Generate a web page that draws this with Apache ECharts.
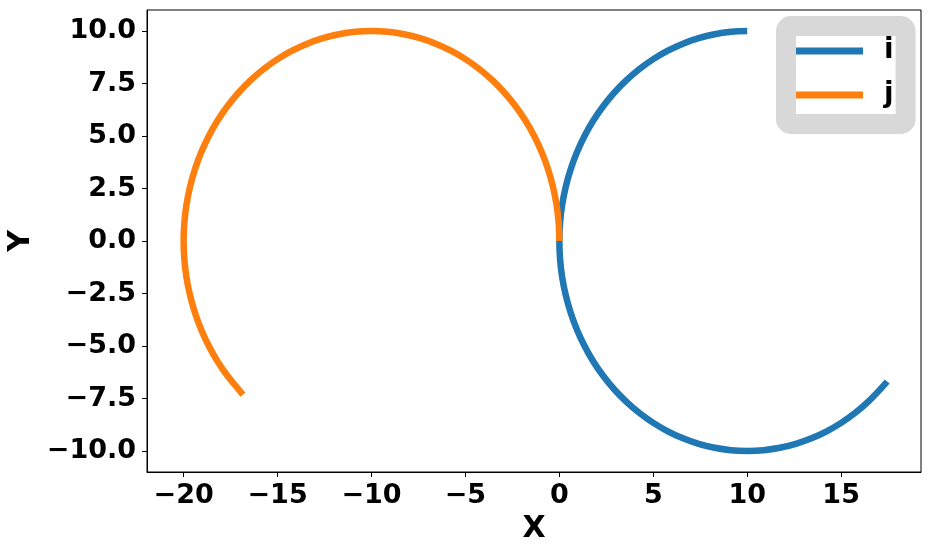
<!DOCTYPE html>
<html>
<head>
<meta charset="utf-8">
<script src="https://cdn.jsdelivr.net/npm/echarts@6/dist/echarts.min.js"></script>
<style>html,body{margin:0;padding:0;background:#fff}#c{width:931px;height:554px}</style>
</head>
<body>
<div id="c"></div>
<script>
// Series "i" (blue)
var iX = [10, 9.128, 8.264, 7.412, 6.580, 5.774, 5.000, 4.264, 3.572, 2.929, 2.340, 1.808, 1.340, 0.937, 0.603, 0.341, 0.152, 0.038, 0,
          0.038, 0.152, 0.341, 0.603, 0.937, 1.340, 1.808, 2.340, 2.929, 3.572, 4.264, 5.000, 5.774, 6.580, 7.412, 8.264, 9.128, 10,
          10.872, 11.736, 12.588, 13.420, 14.226, 15.000, 15.736, 16.428, 17.071, 17.45];
var iY = [10, 9.962, 9.848, 9.659, 9.397, 9.063, 8.660, 8.192, 7.660, 7.071, 6.428, 5.736, 5.000, 4.226, 3.420, 2.588, 1.736, 0.872, 0,
          -0.872, -1.736, -2.588, -3.420, -4.226, -5.000, -5.736, -6.428, -7.071, -7.660, -8.192, -8.660, -9.063, -9.397, -9.659, -9.848, -9.962, -10,
          -9.962, -9.848, -9.659, -9.397, -9.063, -8.660, -8.192, -7.660, -7.071, -6.69];
// Series "j" (orange)
var jX = [0, -0.038, -0.152, -0.341, -0.603, -0.937, -1.340, -1.808, -2.340, -2.929, -3.572, -4.264, -5.000, -5.774, -6.580, -7.412, -8.264, -9.128, -10,
          -10.872, -11.736, -12.588, -13.420, -14.226, -15.000, -15.736, -16.428, -17.071, -17.660, -18.192, -18.660, -19.063, -19.397, -19.659, -19.848, -19.962, -20,
          -19.962, -19.848, -19.659, -19.397, -19.063, -18.660, -18.192, -17.660, -17.071, -16.85];
var jY = [0, 0.872, 1.736, 2.588, 3.420, 4.226, 5.000, 5.736, 6.428, 7.071, 7.660, 8.192, 8.660, 9.063, 9.397, 9.659, 9.848, 9.962, 10,
          9.962, 9.848, 9.659, 9.397, 9.063, 8.660, 8.192, 7.660, 7.071, 6.428, 5.736, 5.000, 4.226, 3.420, 2.588, 1.736, 0.872, 0,
          -0.872, -1.736, -2.588, -3.420, -4.226, -5.000, -5.736, -6.428, -7.071, -7.32];
var seriesNames = ['i', 'j'];
var xTicks = [-20, -15, -10, -5, 0, 5, 10, 15];
var yTicks = [-10, -7.5, -5, -2.5, 0, 2.5, 5, 7.5, 10];

function zip(a, b) { return a.map(function (v, k) { return [v, b[k]]; }); }
function fmtMinus(s) { return String(s).replace('-', '\u2212'); }

var FONT = 'DejaVu Sans';
var chart = echarts.init(document.getElementById('c'), null, { renderer: 'canvas' });
chart.setOption({
  animation: false,
  backgroundColor: '#ffffff',
  grid: { left: 147, right: 10, top: 10, bottom: 82, containLabel: false, outerBoundsMode: 'none', show: true, borderColor: '#000', borderWidth: 1, backgroundColor: 'transparent' },
  legend: {
    orient: 'vertical', left: 786, top: 26,
    padding: [10, 12, 14, 10], itemGap: 14,
    itemWidth: 67, itemHeight: 7, icon: 'rect',
    backgroundColor: '#ffffff', borderColor: '#d8d8d8', borderWidth: 20, borderRadius: 5,
    textStyle: { fontFamily: FONT, fontWeight: 'bold', fontSize: 28, color: '#000', lineHeight: 30, padding: [0, 0, 0, 16] },
    data: seriesNames
  },
  xAxis: {
    type: 'value', min: -21.95, max: 19.25,
    name: 'X', nameLocation: 'middle', nameGap: 42,
    nameTextStyle: { fontFamily: FONT, fontWeight: 'bold', fontSize: 30, color: '#000' },
    axisLine: { show: true, onZero: false, lineStyle: { color: '#000', width: 1 } },
    splitLine: { show: false },
    axisTick: { show: true, inside: false, length: 5, lineStyle: { color: '#000', width: 1 }, customValues: xTicks },
    axisLabel: { show: true, margin: 10, fontFamily: FONT, fontWeight: 'bold', fontSize: 27, color: '#000', customValues: xTicks, formatter: function (v) { return fmtMinus(v); } }
  },
  yAxis: {
    type: 'value', min: -11, max: 11,
    name: 'Y', nameLocation: 'middle', nameGap: 105, nameRotate: 90,
    nameTextStyle: { fontFamily: FONT, fontWeight: 'bold', fontSize: 30, color: '#000' },
    axisLine: { show: true, onZero: false, lineStyle: { color: '#000', width: 1 } },
    splitLine: { show: false },
    axisTick: { show: true, inside: false, length: 5, lineStyle: { color: '#000', width: 1 }, customValues: yTicks },
    axisLabel: { show: true, margin: 11, fontFamily: FONT, fontWeight: 'bold', fontSize: 27, color: '#000', customValues: yTicks, formatter: function (v) { return fmtMinus(v.toFixed(1)); } }
  },
  series: [
    { name: seriesNames[0], type: 'line', data: zip(iX, iY), showSymbol: false, smooth: 0.4, color: '#1f77b4', lineStyle: { width: 6.5, color: '#1f77b4' }, z: 2 },
    { name: seriesNames[1], type: 'line', data: zip(jX, jY), showSymbol: false, smooth: 0.4, color: '#ff7f0e', lineStyle: { width: 6.5, color: '#ff7f0e' }, z: 3 }
  ]
});
</script>
</body>
</html>
